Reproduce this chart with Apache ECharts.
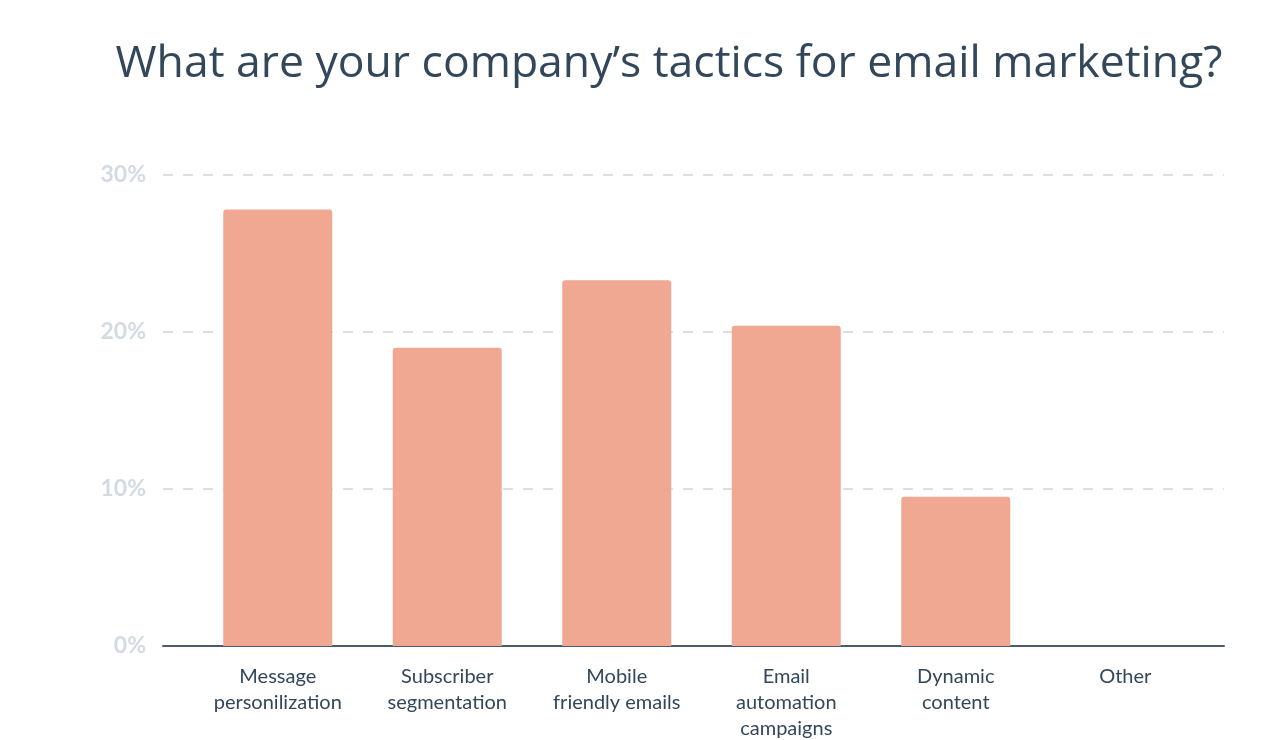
<!DOCTYPE html>
<html>
<head>
<meta charset="utf-8">
<script src="https://cdn.jsdelivr.net/npm/echarts@6/dist/echarts.min.js"></script>
<style>
html,body{margin:0;padding:0;background:#fff;}
#chart{width:1280px;height:740px;}
</style>
</head>
<body>
<div id="chart"></div>
<script>
const titleText = "What are your company\u2019s tactics for email marketing?";
const categories = ["Message\npersonilization", "Subscriber\nsegmentation", "Mobile\nfriendly emails", "Email\nautomation\ncampaigns", "Dynamic\ncontent", "Other"];
const values = [27.8, 19.0, 23.3, 20.4, 9.5, 0];
const yTicks = [0, 10, 20, 30];

const chart = echarts.init(document.getElementById('chart'));
const FONT = 'Lato';
chart.setOption({
  animation: false,
  backgroundColor: '#ffffff',
  title: {
    text: titleText,
    left: 664, textAlign: 'center', top: 37,
    textStyle: { fontFamily: 'Open Sans', fontSize: 44.5, fontWeight: 500, color: '#33475b' }
  },
  grid: [
    { left: 163, right: 56, top: 175, bottom: 94, outerBoundsMode: 'none', containLabel: false },
    { left: 193, right: 70, top: 175, bottom: 94, outerBoundsMode: 'none', containLabel: false }
  ],
  xAxis: [
    { gridIndex: 0, type: 'value', min: 0, max: 1, show: true,
      axisLine: { show: true, onZero: false, lineStyle: { color: '#4a5b6c', width: 2 } },
      axisTick: { show: false }, axisLabel: { show: false }, splitLine: { show: false } },
    { gridIndex: 1, type: 'category', data: categories,
      axisLine: { show: false }, axisTick: { show: false },
      axisLabel: { fontFamily: FONT, fontSize: 20, color: '#33475b', lineHeight: 26, margin: 18, interval: 0 } }
  ],
  yAxis: [
    { gridIndex: 0, type: 'value', min: yTicks[0], max: yTicks[yTicks.length-1], interval: 10,
      axisLine: { show: false }, axisTick: { show: false },
      axisLabel: { formatter: '{value}%', fontFamily: FONT, fontSize: 23, fontWeight: 'bold', color: '#d3dae2', margin: 17 },
      splitLine: { show: true, lineStyle: { type: [10, 10], color: '#dedede', width: 2 } } },
    { gridIndex: 1, type: 'value', min: yTicks[0], max: yTicks[yTicks.length-1], interval: 10, show: false,
      splitLine: { show: false } }
  ],
  series: [{
    type: 'bar', xAxisIndex: 1, yAxisIndex: 1, data: values,
    barWidth: 109,
    itemStyle: { color: '#f0a893', borderRadius: [3, 3, 0, 0] }
  }]
});
</script>
</body>
</html>
